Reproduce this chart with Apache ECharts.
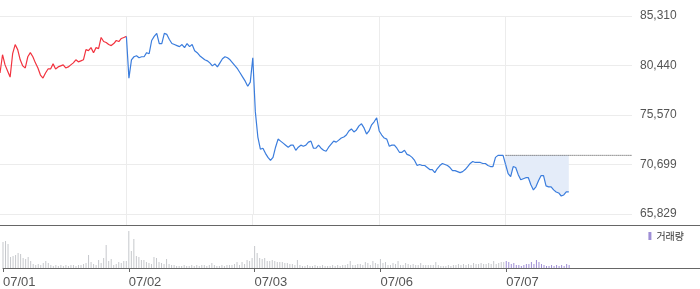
<!DOCTYPE html>
<html lang="ko">
  <head>
    <meta charset="UTF-8" />
    <title>주가 차트</title>
    <script src="https://cdn.jsdelivr.net/npm/echarts@6/dist/echarts.min.js"></script>
    <style>
      html, body { margin: 0; padding: 0; background: #fff; }
    </style>
  </head>
  <body>
    <div id="chart" style="width: 700px; height: 289px"></div>
    <script>
      // 날짜 (하루 50구간)
      const days = ['07/01', '07/02', '07/03', '07/06', '07/07']
      const perDay = 50

      // 오른쪽 가격축 눈금
      const yTicks = [65829, 70699, 75570, 80440, 85310]
      const prevClose = 71600

      // 가격
      const price0701 = [
        79700, 81500, 80500, 79900, 79300, 81600, 82500, 82000, 81000, 80400,
        80200, 81300, 81700, 81300, 80700, 80200, 79500, 79200, 79700, 80100,
        80100, 80600, 80100, 80300, 80400, 80500, 80200, 80300, 80500, 80700,
        81000, 80800, 80900, 81000, 82000, 81900, 82200, 81700, 82200, 82100,
        83200, 82800, 82700, 82500, 82400, 82600, 82900, 82800, 83100, 83200,
      ]
      const price0702 = [
        83300, 79200, 81000, 81300, 81400, 81200, 81300, 81300, 81700, 81600,
        82900, 83300, 83600, 82600, 82600, 83600, 83500, 83000, 82600, 82500,
        82400, 82300, 82500, 82200, 82600, 82300, 82500, 81900, 81700, 81400,
        81200, 81000, 80900, 80700, 80400, 80600, 80300, 80700, 81100, 81300,
        81200, 81000, 80700, 80400, 80100, 79700, 79300, 78900, 78400, 78800,
      ]
      const price0703 = [
        81200, 75900, 73400, 72200, 72300, 71800, 71400, 71100, 71400, 72400,
        73200, 73000, 72800, 72600, 72400, 72600, 72600, 72100, 72400, 72600,
        72500, 72600, 72900, 73000, 72300, 72300, 72600, 72300, 72100, 72000,
        72400, 72700, 73000, 72900, 73100, 73300, 73400, 73600, 74000, 74200,
        73900, 74100, 74500, 74700, 74300, 73700, 74000, 74600, 74900, 75300,
      ]
      const price0706 = [
        74000, 73600, 73300, 73200, 72500, 72600, 72600, 72300, 71900, 71900,
        72100, 71700, 71600, 71400, 71100, 70600, 70700, 70600, 70600, 70400,
        70200, 70200, 69900, 70300, 70600, 70800, 70700, 70600, 70400, 70100,
        70100, 70000, 69900, 70000, 70200, 70500, 70800, 71000, 70900, 70900,
        70900, 70800, 70800, 70600, 70500, 70500, 71400, 71600, 71600, 71600,
      ]
      const price0707 = [
        70700, 69800, 69500, 70500, 70400, 69700, 69200, 69300, 69400, 69400,
        68700, 68200, 68500, 69100, 69600, 69600, 68600, 68500, 68500, 68200,
        68000, 67900, 67600, 67700, 68000, 68000,
      ]

      // 거래량
      const vol0701 = [
        260, 270, 240, 110, 120, 130, 150, 140, 100, 90,
        110, 70, 40, 30, 40, 30, 50, 70, 50, 30,
        20, 30, 20, 30, 20, 30, 20, 30, 30, 20,
        30, 30, 40, 50, 130, 60, 40, 30, 80, 50,
        100, 230, 70, 90, 30, 40, 60, 50, 70, 70,
      ]
      const vol0702 = [
        370, 170, 290, 120, 110, 80, 80, 60, 50, 40,
        110, 100, 60, 50, 40, 90, 40, 30, 30, 20,
        20, 20, 30, 20, 20, 30, 20, 30, 20, 30,
        30, 20, 30, 50, 30, 20, 20, 30, 20, 30,
        30, 30, 40, 60, 30, 60, 40, 80, 70, 100,
      ]
      const vol0703 = [
        220, 150, 100, 90, 100, 70, 70, 80, 70, 60,
        60, 60, 50, 50, 40, 40, 30, 80, 30, 20,
        20, 30, 20, 20, 30, 20, 20, 30, 20, 20,
        20, 30, 20, 30, 20, 30, 30, 40, 70, 30,
        30, 40, 40, 30, 60, 50, 30, 70, 50, 40,
      ]
      const vol0706 = [
        90, 50, 60, 30, 30, 50, 40, 70, 30, 30,
        50, 40, 30, 40, 30, 30, 50, 30, 30, 30,
        30, 30, 60, 30, 20, 20, 20, 30, 20, 30,
        30, 40, 30, 40, 30, 40, 30, 50, 40, 40,
        50, 40, 40, 50, 40, 70, 40, 50, 60, 60,
      ]
      const vol0707 = [
        70, 60, 40, 50, 30, 30, 20, 30, 40, 40,
        60, 40, 80, 60, 40, 30, 20, 20, 30, 20,
        30, 20, 30, 20, 40, 30,
      ]

      const prices = [].concat(price0701, price0702, price0703, price0706, price0707)
      const volumes = [].concat(vol0701, vol0702, vol0703, vol0706, vol0707)

      const base = yTicks[0]
      const span = yTicks[yTicks.length - 1] - base
      const todayStart = perDay * 4
      const dayEnd = perDay * days.length

      // 카테고리: 하루 50칸 + 마지막 끝점
      const cats = []
      days.forEach(d => {
        for (let i = 0; i < perDay; i++) cats.push(d + ' ' + i)
      })
      cats.push('end')
      // 거래량 영역은 오른쪽 끝(700px)까지 축이 이어짐
      const volCats = cats.slice()
      for (let i = 0; i < 27; i++) volCats.push('pad' + i)

      const dayLine = idx => idx % perDay === 0 && idx > 0 && idx < dayEnd
      const dayTick = idx => idx % perDay === 0 && idx < dayEnd

      const seg = (from, to) =>
        cats.map((c, i) => (i >= from && i <= to && i < prices.length ? prices[i] - base : '-'))

      // 전일 종가 기준선 (오늘 구간 전체)
      const refLine = cats.map((c, i) => (i >= todayStart ? prevClose - base : '-'))

      const chart = echarts.init(document.getElementById('chart'))

      const option = {
        animation: false,
        textStyle: { fontFamily: 'Arial, "Liberation Sans", sans-serif' },
        legend: {
          data: ['거래량'],
          right: 16,
          top: 231,
          padding: 0,
          icon: 'rect',
          itemWidth: 3,
          itemHeight: 8,
          textStyle: { fontSize: 10, color: '#333', fontFamily: '"Noto Sans CJK KR", sans-serif' },
        },
        grid: [
          { left: 0, right: 68, top: 16, height: 198 },
          { left: 0, right: 0, top: 214, height: 11 },
          { left: 0, right: 0, top: 225, height: 43 },
        ],
        xAxis: [
          {
            gridIndex: 0,
            type: 'category',
            data: cats,
            boundaryGap: false,
            axisLine: { show: false },
            axisTick: { show: false },
            axisLabel: { show: false },
            splitLine: { show: true, interval: dayLine, lineStyle: { color: '#ececec' } },
          },
          {
            gridIndex: 1,
            type: 'category',
            data: volCats,
            boundaryGap: false,
            axisLine: { show: true, lineStyle: { color: '#666' } },
            axisTick: { show: false },
            axisLabel: { show: false },
            splitLine: { show: true, interval: dayLine, lineStyle: { color: '#ececec' } },
          },
          {
            gridIndex: 2,
            type: 'category',
            data: volCats,
            boundaryGap: false,
            axisLine: { show: true, lineStyle: { color: '#666' } },
            axisTick: { show: true, interval: dayTick, length: 4, lineStyle: { color: '#666' } },
            axisLabel: {
              interval: dayTick,
              formatter: v => v.split(' ')[0],
              align: 'left',
              margin: 8,
              fontSize: 13,
              color: '#555',
            },
            splitLine: { show: false },
          },
        ],
        yAxis: [
          {
            gridIndex: 0,
            type: 'value',
            position: 'right',
            min: 0,
            max: span,
            interval: span / 4,
            axisLine: { show: false },
            axisTick: { show: false },
            splitLine: { lineStyle: { color: '#ececec' } },
            axisLabel: {
              margin: 8,
              fontSize: 12,
              color: '#555',
              formatter: v => Math.round(v + base).toLocaleString('en-US'),
            },
          },
          { gridIndex: 1, type: 'value', show: false },
          { gridIndex: 2, type: 'value', min: 0, max: 430, show: false },
        ],
        series: [
          {
            name: 'up',
            type: 'line',
            data: seg(0, perDay),
            symbol: 'none',
            lineStyle: { color: '#f2333f', width: 1.2 },
            z: 3,
          },
          {
            name: 'down',
            type: 'line',
            data: seg(perDay, todayStart),
            symbol: 'none',
            lineStyle: { color: '#3b7ddd', width: 1.2 },
            z: 3,
          },
          {
            name: 'today',
            type: 'line',
            data: seg(todayStart, prices.length - 1),
            symbol: 'none',
            lineStyle: { color: '#3b7ddd', width: 1.2 },
            areaStyle: { origin: prevClose - base, color: '#e4ecf9', opacity: 1 },
            z: 3,
          },
          {
            name: 'prev',
            type: 'line',
            data: refLine,
            symbol: 'none',
            silent: true,
            clip: false,
            lineStyle: { color: '#444', width: 1, type: [1, 1] },
            z: 5,
          },
          {
            name: 'vol',
            type: 'bar',
            xAxisIndex: 2,
            yAxisIndex: 2,
            data: volumes.map((v, i) => (i < todayStart ? v : '-')),
            barWidth: 1,
            itemStyle: { color: '#c6c8cc' },
          },
          {
            name: '거래량',
            type: 'bar',
            xAxisIndex: 2,
            yAxisIndex: 2,
            data: volumes.map((v, i) => (i >= todayStart ? v : '-')),
            barWidth: 1,
            barGap: '-100%',
            itemStyle: { color: '#9f8fd6' },
          },
        ],
      }

      chart.setOption(option)
    </script>
  </body>
</html>
